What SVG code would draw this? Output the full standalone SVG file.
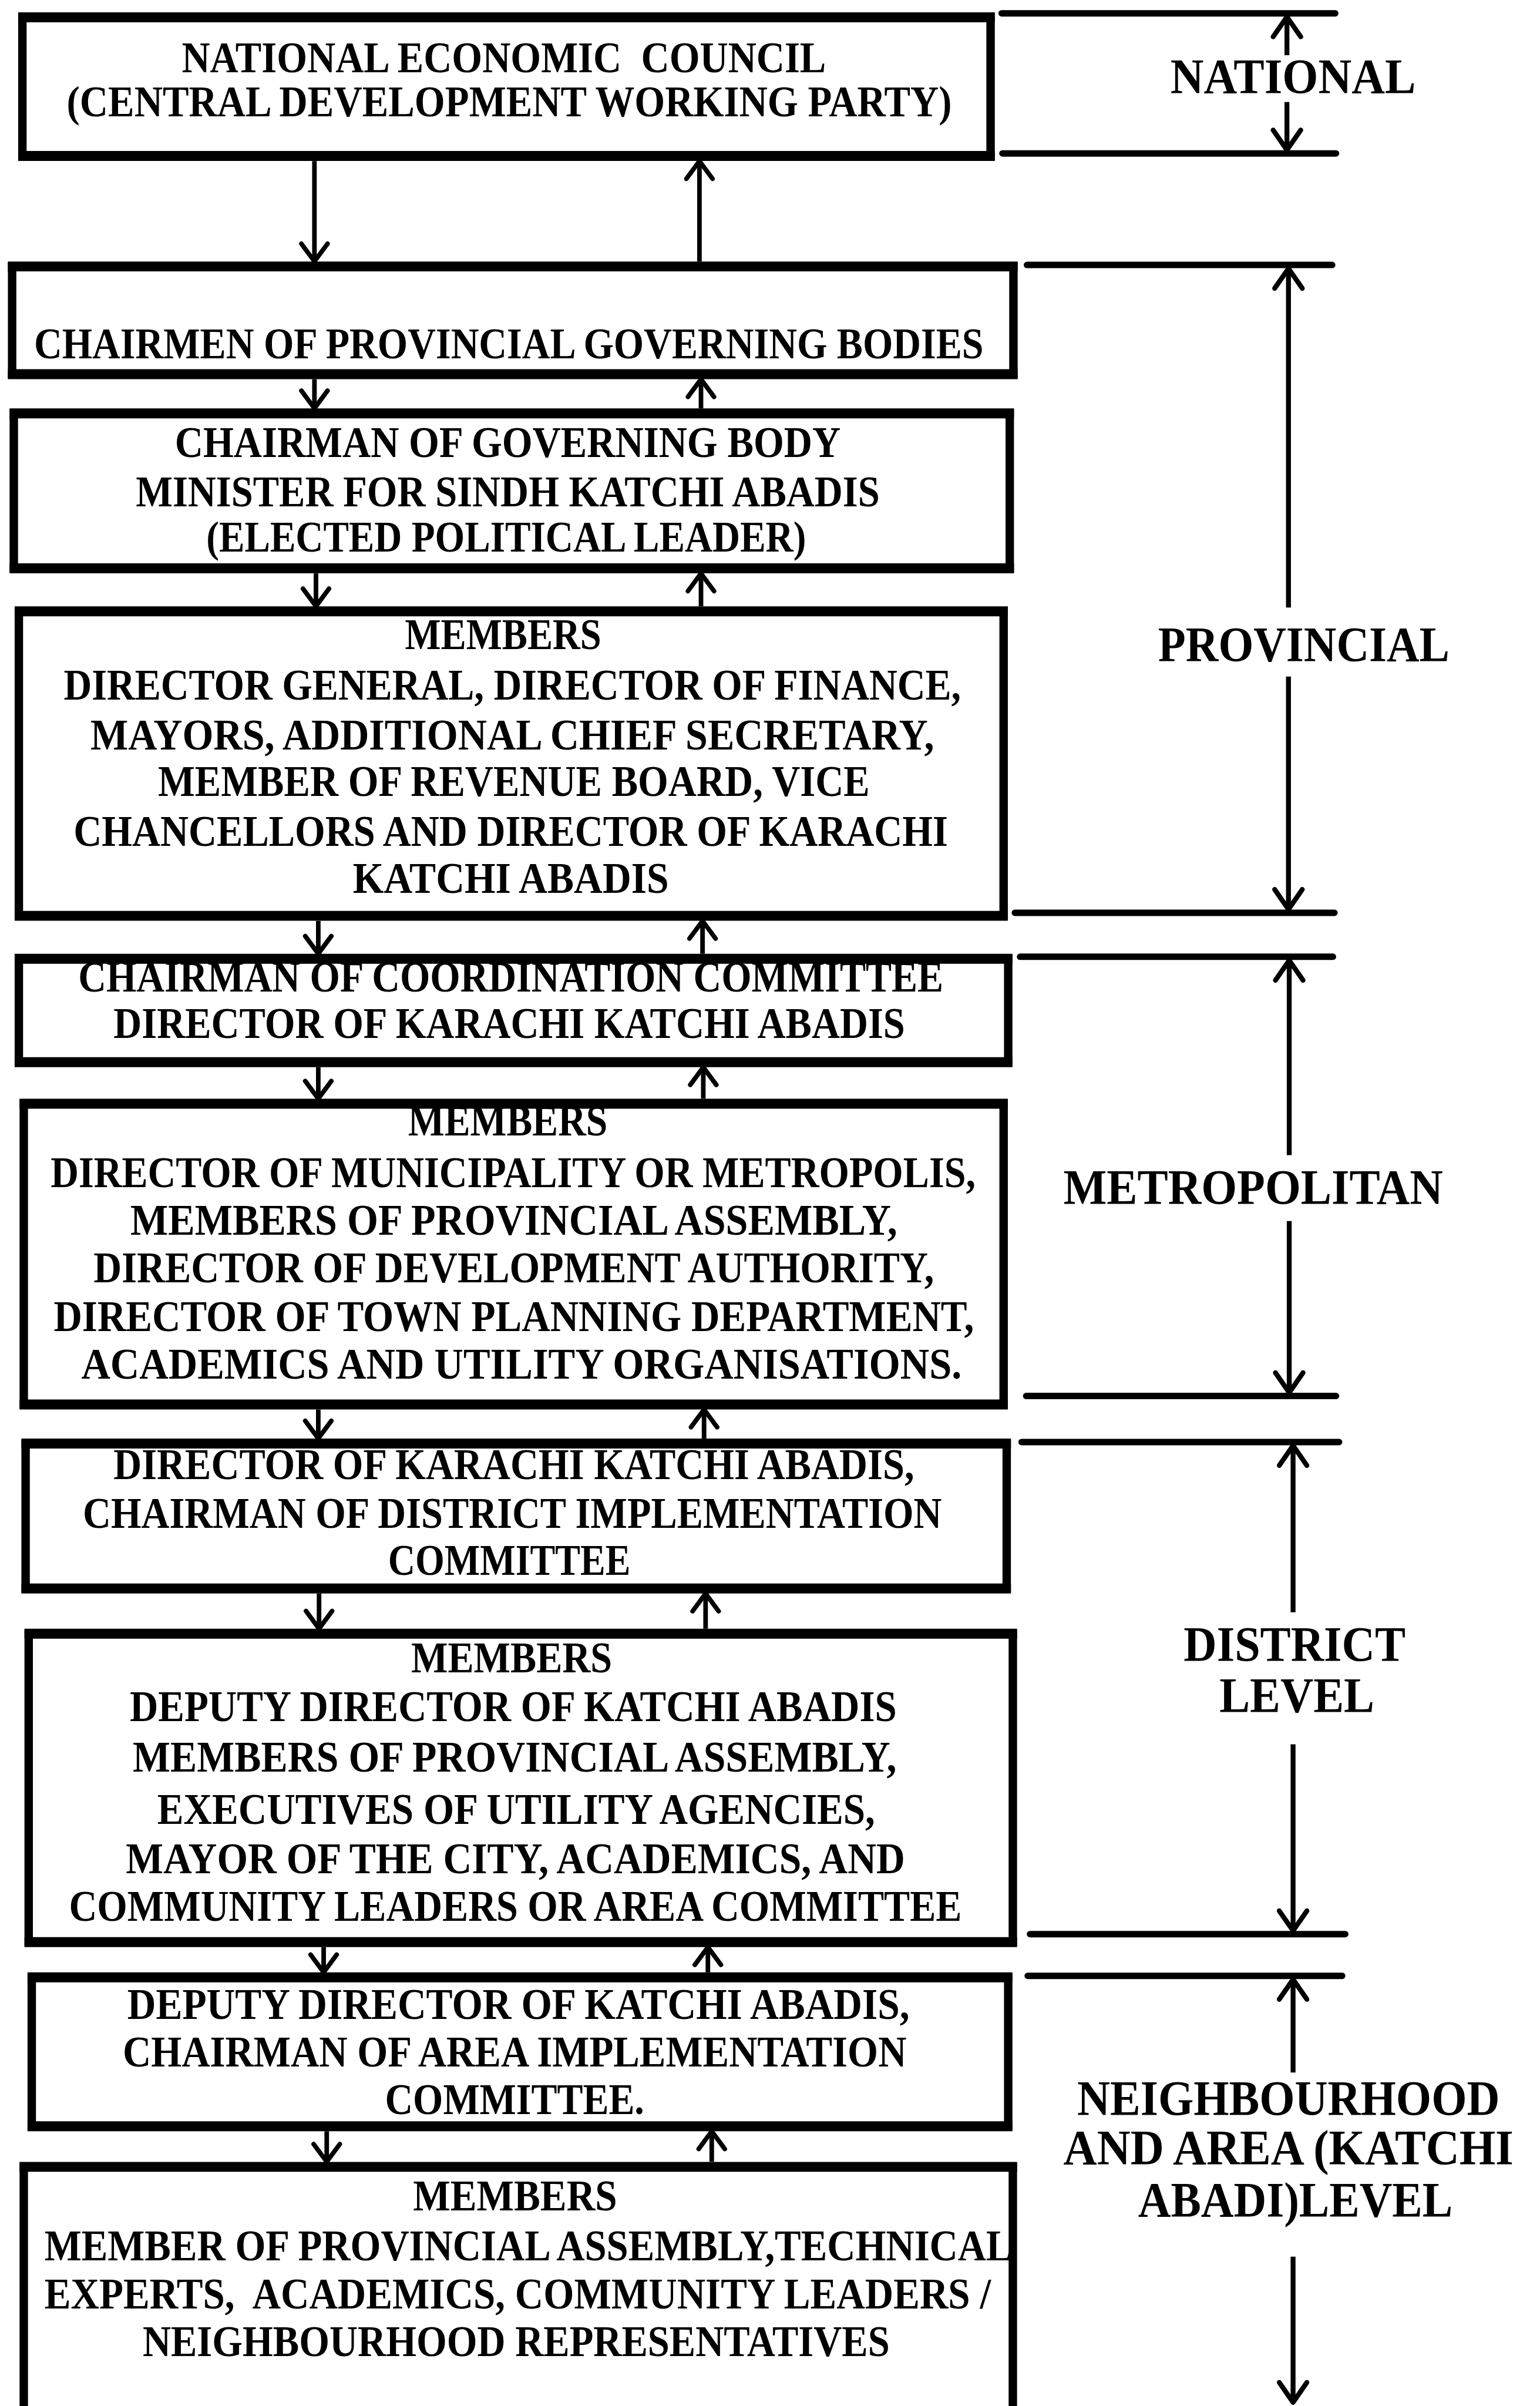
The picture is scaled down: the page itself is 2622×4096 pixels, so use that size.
<svg xmlns="http://www.w3.org/2000/svg" width="2622" height="4096" viewBox="0 0 2622 4096">
  <defs>
    <style>
      .box { fill: #fff; stroke: #000; stroke-width: 5.5; }
      .edge { fill: none; stroke: #000; stroke-width: 6.5; }
      .t { font-family: "Liberation Serif", "Times New Roman", serif; font-weight: bold; font-size: 28.5px; text-anchor: middle; fill: #000; }
      .lbl { font-family: "Liberation Serif", "Times New Roman", serif; font-weight: bold; font-size: 32px; text-anchor: middle; fill: #000; }
      .conn { fill: none; stroke: #000; stroke-width: 3; marker-end: url(#head); }
      .rule { fill: none; stroke: #000; stroke-width: 4.2; stroke-linecap: round; }
      .span { fill: none; stroke: #000; stroke-width: 3.2; marker-end: url(#head-lvl); }
      .pre { white-space: pre; }
    </style>
    <marker id="head" markerUnits="userSpaceOnUse" orient="auto" refX="0" refY="0" markerWidth="1" markerHeight="1" overflow="visible">
      <path d="M-11.5,-8.5 L0,0 L-11.5,8.5" fill="none" stroke="#000" stroke-width="3" stroke-linecap="round" stroke-linejoin="round"/>
    </marker>
    <marker id="head-lvl" markerUnits="userSpaceOnUse" orient="auto" refX="0" refY="0" markerWidth="1" markerHeight="1" overflow="visible">
      <path d="M-13,-9 L0,0 L-13,9" fill="none" stroke="#000" stroke-width="3.2" stroke-linecap="round" stroke-linejoin="round"/>
    </marker>
  </defs>
  <rect x="0" y="0" width="2622" height="4096" fill="#fff"/>

  <!-- whole chart laid out in a 1004 x 1568 grid, scaled up to the page -->
  <g transform="scale(2.6116)">

    <g id="nodes">
      <g id="n-national">
        <rect class="box" x="14.6" y="11.3" width="631.2" height="90.4"/>
        <text class="t pre" x="328.5" y="47" textLength="420" lengthAdjust="spacingAndGlyphs">NATIONAL ECONOMIC  COUNCIL</text>
        <text class="t" x="332" y="76" textLength="577" lengthAdjust="spacingAndGlyphs">(CENTRAL DEVELOPMENT WORKING PARTY)</text>
        <path class="edge" d="M11.85 11.3H648.55M11.85 101.7H648.55"/>
      </g>

      <g id="n-provincial-chairmen">
        <rect class="box" x="7.9" y="173.7" width="652.8" height="70.2"/>
        <text class="t" x="331.7" y="233.5" textLength="619" lengthAdjust="spacingAndGlyphs">CHAIRMEN OF PROVINCIAL GOVERNING BODIES</text>
        <path class="edge" d="M5.15 173.7H663.45M5.15 243.9H663.45"/>
      </g>

      <g id="n-governing-chair">
        <rect class="box" x="9" y="269.5" width="649.3" height="101"/>
        <text class="t" x="331" y="298" textLength="434" lengthAdjust="spacingAndGlyphs">CHAIRMAN OF GOVERNING BODY</text>
        <text class="t" x="331" y="330" textLength="485" lengthAdjust="spacingAndGlyphs">MINISTER FOR SINDH KATCHI ABADIS</text>
        <text class="t" x="330" y="359.5" textLength="391" lengthAdjust="spacingAndGlyphs">(ELECTED POLITICAL LEADER)</text>
        <path class="edge" d="M6.25 269.5H661.05M6.25 370.5H661.05"/>
      </g>

      <g id="n-provincial-members">
        <rect class="box" x="12.3" y="398.5" width="642" height="198.5"/>
        <text class="t" x="328" y="423" textLength="128" lengthAdjust="spacingAndGlyphs">MEMBERS</text>
        <text class="t" x="334" y="456" textLength="585" lengthAdjust="spacingAndGlyphs">DIRECTOR GENERAL, DIRECTOR OF FINANCE,</text>
        <text class="t" x="334" y="488.5" textLength="550" lengthAdjust="spacingAndGlyphs">MAYORS, ADDITIONAL CHIEF SECRETARY,</text>
        <text class="t" x="335" y="519" textLength="464" lengthAdjust="spacingAndGlyphs">MEMBER OF REVENUE BOARD, VICE</text>
        <text class="t" x="333" y="551.5" textLength="570" lengthAdjust="spacingAndGlyphs">CHANCELLORS AND DIRECTOR OF KARACHI</text>
        <text class="t" x="333" y="582" textLength="206" lengthAdjust="spacingAndGlyphs">KATCHI ABADIS</text>
        <path class="edge" d="M9.55 398.5H657.05M9.55 597H657.05"/>
      </g>

      <g id="n-coordination-chair">
        <rect class="box" x="12.3" y="625" width="645" height="67.4"/>
        <text class="t" x="333" y="646.5" textLength="564" lengthAdjust="spacingAndGlyphs">CHAIRMAN OF COORDINATION COMMITTEE</text>
        <text class="t" x="332" y="676.5" textLength="516" lengthAdjust="spacingAndGlyphs">DIRECTOR OF KARACHI KATCHI ABADIS</text>
        <path class="edge" d="M9.55 625H660.05M9.55 692.4H660.05"/>
      </g>

      <g id="n-metropolitan-members">
        <rect class="box" x="15.5" y="719.5" width="638.8" height="196"/>
        <text class="t" x="331" y="740" textLength="130" lengthAdjust="spacingAndGlyphs">MEMBERS</text>
        <text class="t" x="334.5" y="774" textLength="603" lengthAdjust="spacingAndGlyphs">DIRECTOR OF MUNICIPALITY OR METROPOLIS,</text>
        <text class="t" x="335" y="805" textLength="500" lengthAdjust="spacingAndGlyphs">MEMBERS OF PROVINCIAL ASSEMBLY,</text>
        <text class="t" x="335" y="836" textLength="548" lengthAdjust="spacingAndGlyphs">DIRECTOR OF DEVELOPMENT AUTHORITY,</text>
        <text class="t" x="335" y="867.5" textLength="600" lengthAdjust="spacingAndGlyphs">DIRECTOR OF TOWN PLANNING DEPARTMENT,</text>
        <text class="t" x="340" y="898.5" textLength="574" lengthAdjust="spacingAndGlyphs">ACADEMICS AND UTILITY ORGANISATIONS.</text>
        <path class="edge" d="M12.75 719.5H657.05M12.75 915.5H657.05"/>
      </g>

      <g id="n-district-chair">
        <rect class="box" x="16.7" y="941" width="639.6" height="94.5"/>
        <text class="t" x="335" y="964" textLength="522" lengthAdjust="spacingAndGlyphs">DIRECTOR OF KARACHI KATCHI ABADIS,</text>
        <text class="t" x="334" y="996" textLength="560" lengthAdjust="spacingAndGlyphs">CHAIRMAN OF DISTRICT IMPLEMENTATION</text>
        <text class="t" x="332" y="1026.5" textLength="158" lengthAdjust="spacingAndGlyphs">COMMITTEE</text>
        <path class="edge" d="M13.95 941H659.05M13.95 1035.5H659.05"/>
      </g>

      <g id="n-district-members">
        <rect class="box" x="18.7" y="1065" width="641.6" height="201"/>
        <text class="t" x="333.5" y="1090" textLength="131" lengthAdjust="spacingAndGlyphs">MEMBERS</text>
        <text class="t" x="334.6" y="1122" textLength="500" lengthAdjust="spacingAndGlyphs">DEPUTY DIRECTOR OF KATCHI ABADIS</text>
        <text class="t" x="335.5" y="1155" textLength="498" lengthAdjust="spacingAndGlyphs">MEMBERS OF PROVINCIAL ASSEMBLY,</text>
        <text class="t" x="336.5" y="1189" textLength="468" lengthAdjust="spacingAndGlyphs">EXECUTIVES OF UTILITY AGENCIES,</text>
        <text class="t" x="336" y="1221" textLength="508" lengthAdjust="spacingAndGlyphs">MAYOR OF THE CITY, ACADEMICS, AND</text>
        <text class="t" x="336" y="1252" textLength="582" lengthAdjust="spacingAndGlyphs">COMMUNITY LEADERS OR AREA COMMITTEE</text>
        <path class="edge" d="M15.95 1065H663.05M15.95 1266H663.05"/>
      </g>

      <g id="n-area-chair">
        <rect class="box" x="20.7" y="1289" width="636.6" height="97"/>
        <text class="t" x="338" y="1316" textLength="510" lengthAdjust="spacingAndGlyphs">DEPUTY DIRECTOR OF KATCHI ABADIS,</text>
        <text class="t" x="335.5" y="1347" textLength="511" lengthAdjust="spacingAndGlyphs">CHAIRMAN OF AREA IMPLEMENTATION</text>
        <text class="t" x="335.5" y="1378" textLength="169" lengthAdjust="spacingAndGlyphs">COMMITTEE.</text>
        <path class="edge" d="M17.95 1289H660.05M17.95 1386H660.05"/>
      </g>

      <g id="n-area-members">
        <path class="box" d="M15.5 1580V1412.5H660.3V1580"/>
        <text class="t" x="335.8" y="1441" textLength="133" lengthAdjust="spacingAndGlyphs">MEMBERS</text>
        <text class="t" x="344.5" y="1473.5" textLength="631" lengthAdjust="spacingAndGlyphs">MEMBER OF PROVINCIAL ASSEMBLY,TECHNICAL</text>
        <text class="t pre" x="337.5" y="1505" textLength="617" lengthAdjust="spacingAndGlyphs">EXPERTS,  ACADEMICS, COMMUNITY LEADERS /</text>
        <text class="t" x="336.5" y="1536" textLength="487" lengthAdjust="spacingAndGlyphs">NEIGHBOURHOOD REPRESENTATIVES</text>
        <path class="edge" d="M12.75 1412.5H663.05"/>
      </g>
    </g>

    <!-- downward instruction (left) and upward reporting (right) links between bodies -->
    <g id="connectors">
      <path class="conn" d="M205 105V170.4"/>
      <path class="conn" d="M456 170.4V105"/>
      <path class="conn" d="M205 247.2V266.2"/>
      <path class="conn" d="M457 266.2V247.2"/>
      <path class="conn" d="M206 373.8V395.2"/>
      <path class="conn" d="M457 395.2V373.8"/>
      <path class="conn" d="M207.5 600.3V621.7"/>
      <path class="conn" d="M458 621.7V600.3"/>
      <path class="conn" d="M207.5 695.7V716.2"/>
      <path class="conn" d="M458.5 716.2V695.7"/>
      <path class="conn" d="M207.5 918.8V937.7"/>
      <path class="conn" d="M459 937.7V918.8"/>
      <path class="conn" d="M208 1038.8V1061.7"/>
      <path class="conn" d="M460 1061.7V1038.8"/>
      <path class="conn" d="M211 1269.3V1285.7"/>
      <path class="conn" d="M461.5 1285.7V1269.3"/>
      <path class="conn" d="M213 1389.3V1409.2"/>
      <path class="conn" d="M464 1409.2V1389.3"/>
    </g>

    <!-- government level spans on the right -->
    <g id="levels">
      <g id="level-national">
        <path class="rule" d="M653 8.7H870.5M653.5 100H871"/>
        <path class="span" d="M839 36V11"/>
        <path class="span" d="M839 66.5V97.8"/>
        <text class="lbl" x="843" y="61" font-size="33.5" textLength="160" lengthAdjust="spacingAndGlyphs">NATIONAL</text>
      </g>
      <g id="level-provincial">
        <path class="rule" d="M669.5 172.7H868.5M661.6 595H870"/>
        <path class="span" d="M840 396V175"/>
        <path class="span" d="M840 441V592.8"/>
        <text class="lbl" x="850" y="431" textLength="190" lengthAdjust="spacingAndGlyphs">PROVINCIAL</text>
      </g>
      <g id="level-metropolitan">
        <path class="rule" d="M665 623.7H869M669 910H871"/>
        <path class="span" d="M840.5 753V626"/>
        <path class="span" d="M840.5 796V907.8"/>
        <text class="lbl" x="817" y="785" textLength="247.5" lengthAdjust="spacingAndGlyphs">METROPOLITAN</text>
      </g>
      <g id="level-district">
        <path class="rule" d="M666 940H873M671.5 1260.8H877"/>
        <path class="span" d="M843 1051V942.3"/>
        <path class="span" d="M843 1137V1258.6"/>
        <text class="lbl" x="844" y="1083" textLength="144.6" lengthAdjust="spacingAndGlyphs">DISTRICT</text>
        <text class="lbl" x="845.5" y="1116" textLength="101" lengthAdjust="spacingAndGlyphs">LEVEL</text>
      </g>
      <g id="level-neighbourhood">
        <path class="rule" d="M670 1288H875"/>
        <path class="span" d="M843 1351V1290.3"/>
        <path class="span" d="M843 1471V1566"/>
        <text class="lbl" x="840" y="1379" textLength="275.5" lengthAdjust="spacingAndGlyphs">NEIGHBOURHOOD</text>
        <text class="lbl" x="840" y="1411" textLength="293.4" lengthAdjust="spacingAndGlyphs">AND AREA (KATCHI</text>
        <text class="lbl" x="844.5" y="1445" textLength="205" lengthAdjust="spacingAndGlyphs">ABADI)LEVEL</text>
      </g>
    </g>

  </g>
</svg>
